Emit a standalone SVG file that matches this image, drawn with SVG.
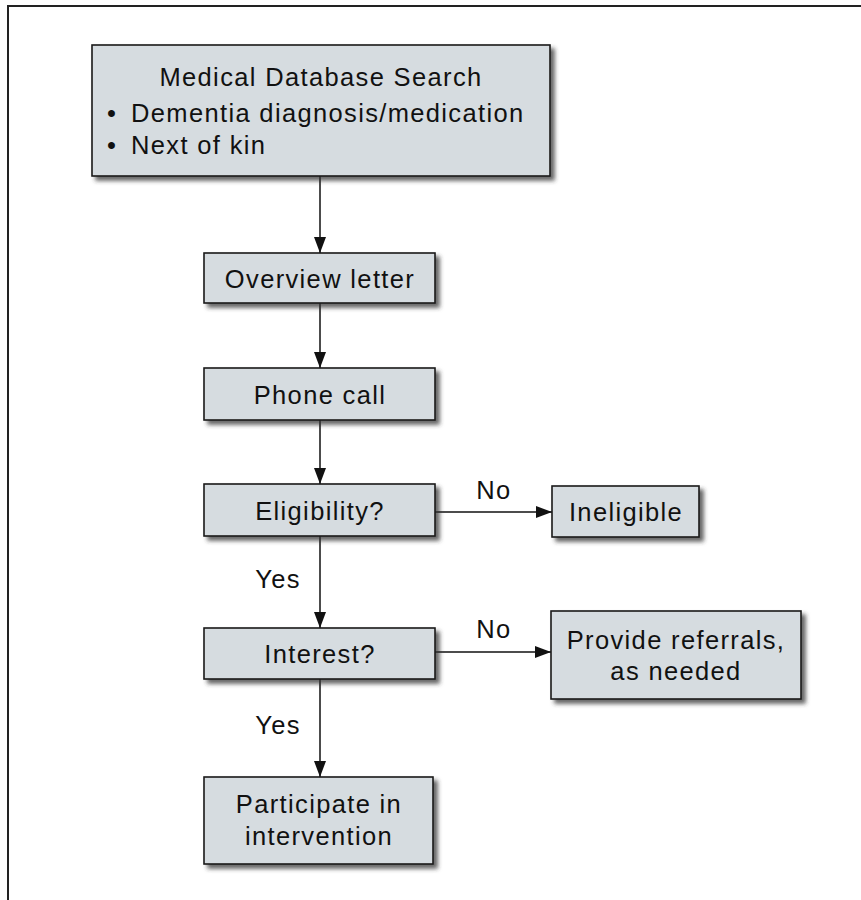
<svg xmlns="http://www.w3.org/2000/svg" width="861" height="900" viewBox="0 0 861 900">
<style>
.box{fill:#d6dce0;stroke:#1a1a1a;stroke-width:1.6;filter:url(#sh)}
text{font-family:"Liberation Sans",Arial,sans-serif;font-size:25.5px;fill:#111;letter-spacing:1.35px}
.c{text-anchor:middle}
.ln{stroke:#111;stroke-width:1.5;fill:none;marker-end:url(#ah)}
</style>
<defs>
<filter id="sh" x="-10%" y="-10%" width="130%" height="140%">
<feDropShadow dx="4" dy="4" stdDeviation="2.2" flood-color="#333" flood-opacity="0.75"/>
</filter>
<marker id="ah" viewBox="0 0 16 12" refX="16" refY="6" markerWidth="16" markerHeight="12" markerUnits="userSpaceOnUse" orient="auto">
<path d="M0,0 L16,6 L0,12 Z" fill="#111"/>
</marker>
</defs>
<rect width="861" height="900" fill="#fff"/>
<path d="M8,900 V6 H861" fill="none" stroke="#222" stroke-width="2"/>

<g id="connectors">
<line class="ln" x1="320" y1="176" x2="320" y2="253"/>
<line class="ln" x1="320" y1="303" x2="320" y2="368"/>
<line class="ln" x1="320" y1="420" x2="320" y2="484"/>
<line class="ln" x1="320" y1="536" x2="320" y2="628"/>
<line class="ln" x1="320" y1="679" x2="320" y2="777"/>
<line class="ln" x1="435" y1="512" x2="552" y2="512"/>
<line class="ln" x1="435" y1="652" x2="551" y2="652"/>
<text x="494" y="499" class="c">No</text>
<text x="494" y="638" class="c">No</text>
<text x="278" y="588" class="c">Yes</text>
<text x="278" y="734" class="c">Yes</text>
</g>

<g id="n-search">
<rect class="box" x="92" y="45" width="458" height="131"/>
<text x="321" y="86" class="c">Medical Database Search</text>
<text x="107" y="122">•</text>
<text x="131" y="122">Dementia diagnosis/medication</text>
<text x="107" y="154">•</text>
<text x="131" y="154">Next of kin</text>
</g>

<g id="n-letter">
<rect class="box" x="204" y="253" width="231" height="50"/>
<text x="320" y="288" class="c">Overview letter</text>
</g>

<g id="n-phone">
<rect class="box" x="204" y="368" width="231" height="52"/>
<text x="320" y="404" class="c">Phone call</text>
</g>

<g id="n-elig">
<rect class="box" x="204" y="484" width="231" height="52"/>
<text x="320" y="520" class="c">Eligibility?</text>
</g>

<g id="n-inelig">
<rect class="box" x="552" y="486" width="147" height="51"/>
<text x="626" y="521" class="c">Ineligible</text>
</g>

<g id="n-interest">
<rect class="box" x="204" y="628" width="231" height="51"/>
<text x="320" y="663" class="c">Interest?</text>
</g>

<g id="n-referrals">
<rect class="box" x="551" y="611" width="250" height="88"/>
<text x="676" y="649" class="c">Provide referrals,</text>
<text x="676" y="680" class="c">as needed</text>
</g>

<g id="n-participate">
<rect class="box" x="204" y="777" width="229" height="87"/>
<text x="319" y="813" class="c">Participate in</text>
<text x="319" y="845" class="c">intervention</text>
</g>
</svg>
